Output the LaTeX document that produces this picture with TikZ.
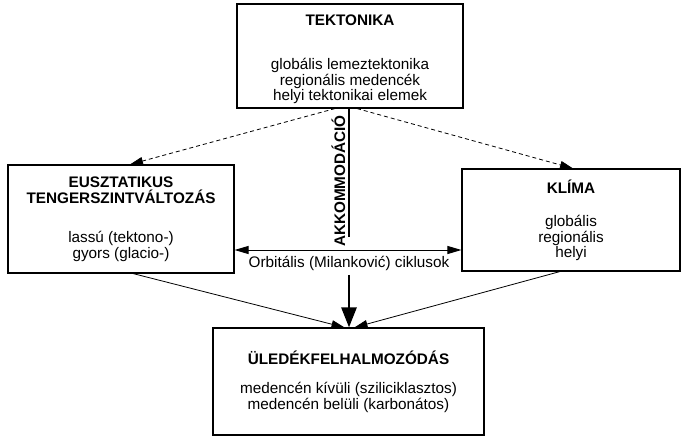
\documentclass[tikz,border=0pt]{standalone}
\usepackage{fontspec}
\setmainfont{Liberation Sans}
\usetikzlibrary{arrows.meta,calc}
\begin{document}
\begin{tikzpicture}[x=1pt,y=-1pt,
  box/.style={draw,line width=1.1pt,rectangle,align=center,inner sep=0pt,
    font=\fontsize{15.3}{15.5}\selectfont},
  thinarr/.style={-{Triangle[length=13pt,width=8pt]},line width=0.8pt},
  dasharr/.style={thinarr,dashed,dash pattern=on 4pt off 3pt},
  dblarr/.style={{Triangle[length=14pt,width=8pt]}-{Triangle[length=14pt,width=8pt]},line width=0.9pt},
  thickarr/.style={-{Triangle[length=20pt,width=15pt]},line width=2.6pt},
  lbl/.style={font=\fontsize{15.3}{15.5}\selectfont,inner sep=0pt}]
\useasboundingbox (0,0) rectangle (688,438);

\node[box,minimum width=226pt,minimum height=104pt] (tek) at (350,56)
  {\rule{0pt}{17pt}\textbf{TEKTONIKA}\\[29pt] globális lemeztektonika\\ regionális medencék\\ helyi tektonikai elemek};
\node[box,minimum width=226pt,minimum height=108pt] (eus) at (121,219)
  {\textbf{EUSZTATIKUS}\\ \textbf{TENGERSZINTVÁLTOZÁS}\\[24pt] lassú (tektono-)\\ gyors (glacio-)};
\node[box,minimum width=218pt,minimum height=102pt] (kli) at (571,220)
  {\rule{0pt}{14pt}\textbf{KLÍMA}\\[18pt] globális\\ regionális\\ helyi};
\node[box,minimum width=271pt,minimum height=107pt] (ule) at (348.5,381.5)
  {\rule{0pt}{13pt}\textbf{ÜLEDÉKFELHALMOZÓDÁS}\\[14pt] medencén kívüli (sziliciklasztos)\\ medencén belüli (karbonátos)};

% dashed arrows from tectonics
\draw[dasharr] ([xshift=-15pt]tek.south) -- ([xshift=9pt]eus.north);
\draw[dasharr] ([xshift=7pt]tek.south) -- ([xshift=2pt]kli.north);

% accommodation line
\coordinate (akkend) at (349,237);
\draw[line width=2.8pt] (tek.south -| akkend) -- (akkend);
\node[lbl,rotate=90,font=\fontsize{15.3}{15.5}\selectfont\bfseries] (akk) at (338.5,181) {AKKOMMODÁCIÓ};

% orbital cycles double arrow
\coordinate (mid) at (349,250);
\draw[dblarr] (mid -| eus.east) -- (mid -| kli.west);
\node[lbl] (orb) at (349,263) {Orbitális (Milanković) ciklusok};

% thick arrow down
\coordinate (dstart) at (349,275);
\draw[thickarr] (dstart) -- (dstart |- ule.north);

% thin arrows into sedimentation
\draw[thinarr] ([xshift=12pt]eus.south) -- ([xshift=-4pt]ule.north);
\draw[thinarr] ([xshift=-11pt]kli.south) -- ([xshift=6pt]ule.north);
\end{tikzpicture}
\end{document}
